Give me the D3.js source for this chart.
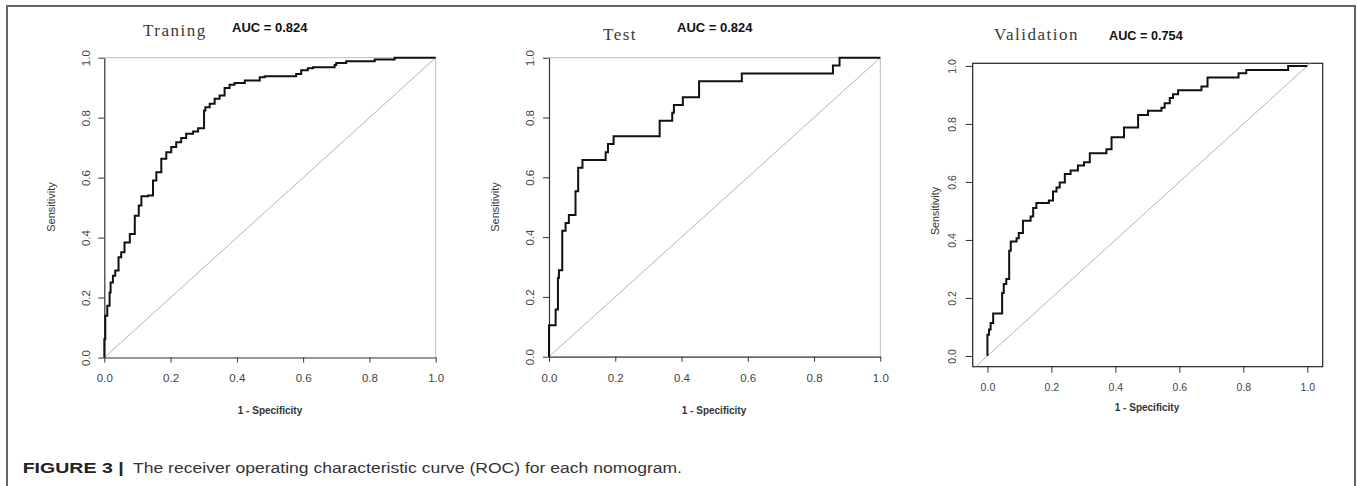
<!DOCTYPE html>
<html>
    <head>
        <meta charset="utf-8"/>
        <script src="https://d3js.org/d3.v7.min.js"></script>
        <style>
            body { margin: 0; background: #fff; }
            svg { display: block; }
        </style>
    </head>
    <body>
        <div id="chart"></div>
        <script>

            // ---- data ----
            var tickValues = [0, 0.2, 0.4, 0.6, 0.8, 1.0];
            var panelTitles = ["Traning", "Test", "Validation"];
            var aucLabels = ["AUC = 0.824", "AUC = 0.824", "AUC = 0.754"];

            // (1 - specificity, sensitivity), each point = end of a horizontal run
            var trainFpr = [0, 0.003, 0.009, 0.016, 0.019, 0.026, 0.033, 0.043, 0.051, 0.061, 0.077, 0.092, 0.104, 0.112, 0.132, 0.147, 0.157, 0.172, 0.187, 0.202, 0.217, 0.232, 0.247, 0.268, 0.283, 0.301, 0.305, 0.318, 0.333, 0.348, 0.363, 0.378, 0.393, 0.424, 0.469, 0.484, 0.499, 0.579, 0.594, 0.614, 0.630, 0.695, 0.700, 0.730, 0.816, 0.876, 1.0];
            var trainTpr = [0, 0.061, 0.139, 0.173, 0.217, 0.250, 0.273, 0.290, 0.334, 0.351, 0.384, 0.412, 0.473, 0.507, 0.538, 0.540, 0.590, 0.618, 0.663, 0.685, 0.702, 0.718, 0.732, 0.746, 0.754, 0.765, 0.824, 0.835, 0.846, 0.863, 0.874, 0.899, 0.910, 0.916, 0.924, 0.935, 0.938, 0.938, 0.946, 0.958, 0.965, 0.968, 0.976, 0.982, 0.988, 0.994, 1.0];

            var testFpr = [0, 0.020, 0.027, 0.030, 0.040, 0.050, 0.060, 0.080, 0.088, 0.101, 0.171, 0.178, 0.195, 0.334, 0.372, 0.377, 0.404, 0.453, 0.582, 0.857, 0.877, 1.0];
            var testTpr = [0, 0.105, 0.158, 0.263, 0.289, 0.421, 0.447, 0.474, 0.553, 0.632, 0.658, 0.684, 0.711, 0.737, 0.789, 0.816, 0.842, 0.868, 0.921, 0.947, 0.974, 1.0];

            var validFpr = [0, 0.005, 0.010, 0.018, 0.046, 0.051, 0.059, 0.068, 0.073, 0.091, 0.098, 0.111, 0.135, 0.143, 0.153, 0.192, 0.205, 0.216, 0.226, 0.242, 0.260, 0.283, 0.302, 0.320, 0.372, 0.388, 0.427, 0.471, 0.502, 0.544, 0.554, 0.570, 0.580, 0.596, 0.669, 0.688, 0.785, 0.809, 0.940, 1.0];
            var validTpr = [0, 0.073, 0.091, 0.114, 0.146, 0.217, 0.248, 0.265, 0.363, 0.395, 0.406, 0.424, 0.466, 0.481, 0.510, 0.527, 0.536, 0.567, 0.581, 0.598, 0.627, 0.639, 0.657, 0.668, 0.699, 0.713, 0.754, 0.788, 0.831, 0.845, 0.856, 0.871, 0.889, 0.902, 0.916, 0.929, 0.960, 0.975, 0.986, 1.0];

            var W = 1357, H = 486;
            var svg = d3.select("#chart").append("svg").attr("width", W).attr("height", H);

            // outer figure frame
            svg.append("rect")
                .attr("x", 7).attr("y", 6).attr("width", 1348).attr("height", 490)
                .attr("fill", "none").attr("stroke", "#666").attr("stroke-width", 2);

            // layout of the three panels (pixels)
            var panels = [
                { fpr: trainFpr, tpr: trainTpr, boxed: false,
                  xDom: [0, 1], xRange: [104.3, 435.7], yDom: [0, 1], yRange: [357.5, 57.7],
                  title: [143, 36], auc: [232, 32], ylab: [51, 207], xlab: [270, 410],
                  tickFont: 11.5, tickOff: 20.5, yTickOff: 18.8 },
                { fpr: testFpr, tpr: testTpr, boxed: false,
                  xDom: [0, 1], xRange: [549, 880.3], yDom: [0, 1], yRange: [356.7, 57.7],
                  title: [603, 40], auc: [677, 32], ylab: [495, 207], xlab: [714, 410],
                  tickFont: 11.5, tickOff: 21.3, yTickOff: 19.5 },
                { fpr: validFpr, tpr: validTpr, boxed: true,
                  xDom: [-0.046, 1.048], xRange: [972.7, 1322.7], yDom: [-0.037, 1.009], yRange: [366.7, 63.3],
                  title: [994, 40], auc: [1109, 40], ylab: [935.5, 211], xlab: [1147, 407.5],
                  tickFont: 10.5, tickOff: 20.8, yTickOff: 20.7 }
            ];

            panels.forEach(function(p, i) {
                var x = d3.scaleLinear().domain(p.xDom).range(p.xRange);
                var y = d3.scaleLinear().domain(p.yDom).range(p.yRange);
                var g = svg.append("g");

                // plot frame
                if (p.boxed) {
                    g.append("rect")
                        .attr("x", p.xRange[0]).attr("y", p.yRange[1])
                        .attr("width", p.xRange[1] - p.xRange[0]).attr("height", p.yRange[0] - p.yRange[1])
                        .attr("fill", "none").attr("stroke", "#222").attr("stroke-width", 1.2);
                } else {
                    g.append("path")
                        .attr("d", "M" + x(0) + "," + y(1) + "H" + x(1) + "V" + y(0))
                        .attr("fill", "none").attr("stroke", "#bdbdbd").attr("stroke-width", 1);
                }

                // chance diagonal, clipped to plot region
                var t0 = Math.max(p.xDom[0], p.yDom[0]), t1 = Math.min(p.xDom[1], p.yDom[1]);
                g.append("line")
                    .attr("x1", x(t0)).attr("y1", y(t0)).attr("x2", x(t1)).attr("y2", y(t1))
                    .attr("stroke", "#b4b4b4").attr("stroke-width", 1);

                // axes
                var fmt = d3.format(".1f");
                var yBase = p.boxed ? p.yRange[0] : y(0);
                var xBase = p.boxed ? p.xRange[0] : x(0);

                var xa = g.append("g")
                    .attr("transform", "translate(0," + yBase + ")")
                    .call(d3.axisBottom(x).tickValues(tickValues).tickFormat(fmt)
                        .tickSize(p.boxed ? 6 : 5).tickSizeOuter(0));
                var ya = g.append("g")
                    .attr("transform", "translate(" + xBase + ",0)")
                    .call(d3.axisLeft(y).tickValues(tickValues).tickFormat(fmt)
                        .tickSize(p.boxed ? 7 : 6).tickSizeOuter(0));

                [xa, ya].forEach(function(a) {
                    a.selectAll("line").attr("stroke", "#333").attr("stroke-width", 1);
                    a.selectAll("text")
                        .attr("fill", "#444")
                        .style("font-family", "Liberation Sans, Arial, sans-serif")
                        .style("font-size", p.tickFont + "px");
                });
                if (p.boxed) {
                    xa.select(".domain").remove();
                    ya.select(".domain").remove();
                } else {
                    xa.select(".domain").attr("stroke", "#333").attr("stroke-width", 1.2);
                    ya.select(".domain").attr("stroke", "#333").attr("stroke-width", 1.2);
                }
                xa.selectAll("text").attr("y", p.tickOff).attr("dy", "0.35em");
                ya.selectAll("text")
                    .attr("x", 0).attr("y", 0).attr("dy", "0.35em")
                    .attr("text-anchor", "middle")
                    .attr("transform", "translate(" + (-p.yTickOff) + ",0) rotate(-90)");

                // ROC curve
                var pts = p.fpr.map(function(v, k) { return [v, p.tpr[k]]; });
                var line = d3.line()
                    .x(function(d) { return x(d[0]); })
                    .y(function(d) { return y(d[1]); })
                    .curve(d3.curveStepBefore);
                g.append("path")
                    .datum(pts)
                    .attr("d", line)
                    .attr("fill", "none").attr("stroke", "#111")
                    .attr("stroke-width", 2).attr("stroke-linejoin", "miter");

                // labels
                g.append("text")
                    .attr("x", p.title[0]).attr("y", p.title[1])
                    .style("font-family", "Liberation Serif, Times New Roman, serif")
                    .style("font-size", "17px").style("letter-spacing", "1.5px")
                    .attr("fill", "#3a3a3a")
                    .text(panelTitles[i]);
                g.append("text")
                    .attr("x", p.auc[0]).attr("y", p.auc[1])
                    .style("font-family", "Liberation Sans, Arial, sans-serif")
                    .style("font-size", p.boxed ? "12.7px" : "13px").style("font-weight", "bold")
                    .attr("fill", "#111")
                    .text(aucLabels[i]);
                g.append("text")
                    .attr("transform", "translate(" + p.ylab[0] + "," + p.ylab[1] + ") rotate(-90)")
                    .attr("text-anchor", "middle").attr("dy", "0.35em")
                    .style("font-family", "Liberation Sans, Arial, sans-serif")
                    .style("font-size", p.boxed ? "10.7px" : "11px")
                    .attr("fill", "#333")
                    .text("Sensitivity");
                g.append("text")
                    .attr("x", p.xlab[0]).attr("y", p.xlab[1])
                    .attr("text-anchor", "middle").attr("dy", "0.35em")
                    .style("font-family", "Liberation Sans, Arial, sans-serif")
                    .style("font-size", "10px").style("font-weight", "bold")
                    .attr("fill", "#333")
                    .text("1 - Specificity");
            });

            // figure caption (glyphs are wider in the original, so stretch to measured widths)
            var capFont = "Liberation Sans, Arial, sans-serif";
            svg.append("text")
                .attr("x", 22.7).attr("y", 472.5)
                .attr("textLength", 101).attr("lengthAdjust", "spacingAndGlyphs")
                .style("font-family", capFont).style("font-size", "15.5px").style("font-weight", "bold")
                .attr("fill", "#222")
                .text("FIGURE 3 |");
            svg.append("text")
                .attr("x", 133).attr("y", 472.5)
                .attr("textLength", 549).attr("lengthAdjust", "spacingAndGlyphs")
                .style("font-family", capFont).style("font-size", "15.5px")
                .attr("fill", "#333")
                .text("The receiver operating characteristic curve (ROC) for each nomogram.");

        </script>
    </body>
</html>
